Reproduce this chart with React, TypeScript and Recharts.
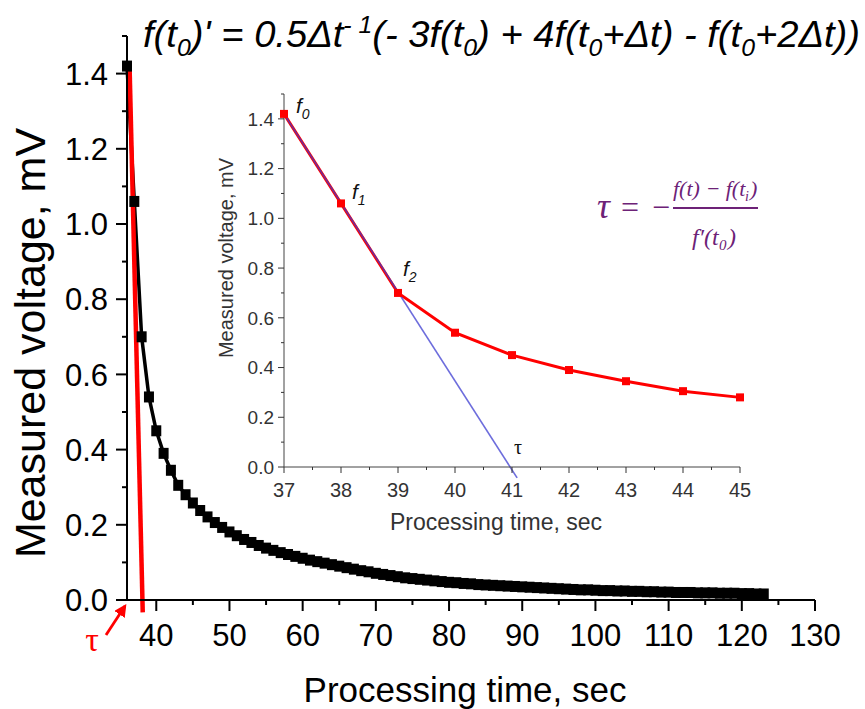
import React from 'react';
import { ComposedChart, Line, XAxis, YAxis, ReferenceLine } from 'recharts';

// ---------- data ----------
const mainTimes = [
  36, 37, 38, 39, 40, 41, 42, 43, 44, 45, 46, 47, 48, 49, 50, 51, 52, 53, 54, 55, 56, 57,
  58, 59, 60, 61, 62, 63, 64, 65, 66, 67, 68, 69, 70, 71, 72, 73, 74, 75, 76, 77, 78, 79,
  80, 81, 82, 83, 84, 85, 86, 87, 88, 89, 90, 91, 92, 93, 94, 95, 96, 97, 98, 99, 100, 101,
  102, 103, 104, 105, 106, 107, 108, 109, 110, 111, 112, 113, 114, 115, 116, 117, 118, 119,
  120, 121, 122, 123,
];
const mainVoltages = [
  1.42, 1.06, 0.7, 0.54, 0.45, 0.39, 0.345, 0.305, 0.28, 0.258, 0.238, 0.221, 0.206, 0.193,
  0.181, 0.171, 0.161, 0.153, 0.145, 0.138, 0.132, 0.126, 0.121, 0.116, 0.111, 0.106, 0.102,
  0.098, 0.094, 0.09, 0.086, 0.082, 0.078, 0.075, 0.071, 0.068, 0.065, 0.062, 0.059, 0.057,
  0.055, 0.053, 0.051, 0.049, 0.047, 0.046, 0.044, 0.043, 0.041, 0.04, 0.039, 0.038, 0.037,
  0.036, 0.035, 0.034, 0.033, 0.032, 0.031, 0.03, 0.029, 0.028, 0.027, 0.027, 0.026, 0.025,
  0.025, 0.024, 0.024, 0.023, 0.023, 0.022, 0.022, 0.021, 0.021, 0.02, 0.02, 0.02, 0.019,
  0.019, 0.019, 0.018, 0.018, 0.018, 0.017, 0.017, 0.016, 0.016,
];
const mainTangent = [
  { t: 36.35, v: 1.42 },
  { t: 38.15, v: -0.033 },
];

const insetTimes = [37, 38, 39, 40, 41, 42, 43, 44, 45];
const insetVoltages = [1.42, 1.06, 0.7, 0.54, 0.45, 0.39, 0.345, 0.305, 0.28];
const insetTangent = [
  { t: 37, v: 1.42 },
  { t: 41.09, v: -0.044 },
];

const mainXTicks = [40, 45, 50, 55, 60, 65, 70, 75, 80, 85, 90, 95, 100, 105, 110, 115, 120, 125, 130];
const mainXMajors = [40, 50, 60, 70, 80, 90, 100, 110, 120, 130];
const yTicks = [0, 0.1, 0.2, 0.3, 0.4, 0.5, 0.6, 0.7, 0.8, 0.9, 1.0, 1.1, 1.2, 1.3, 1.4, 1.5];
const yMajors = [0, 0.2, 0.4, 0.6, 0.8, 1.0, 1.2, 1.4];
const insetXTicks = [37, 37.5, 38, 38.5, 39, 39.5, 40, 40.5, 41, 41.5, 42, 42.5, 43, 43.5, 44, 44.5, 45];
const insetXMajors = [37, 38, 39, 40, 41, 42, 43, 44, 45];

const mainData = mainTimes.map((t, i) => ({ t, v: mainVoltages[i] }));
const insetData = insetTimes.map((t, i) => ({ t, v: insetVoltages[i] }));

const FONT = '"Liberation Sans", Arial, Helvetica, sans-serif';
const SERIF = '"Liberation Serif", "DejaVu Serif", serif';
const isIn = (list: number[], v: number) => list.some((m) => Math.abs(m - v) < 1e-9);

// ---------- tick renderers ----------
const makeXTick =
  (majors: number[], o: { len: number; minor: number; fs: number; dy: number; color: string; sw: number; fmt: (v: number) => string }) =>
  (props: any) => {
    const { x, y, payload } = props;
    const major = isIn(majors, payload.value);
    return (
      <g>
        <line x1={x} x2={x} y1={y} y2={y + (major ? o.len : o.minor)} stroke={o.color} strokeWidth={o.sw} />
        {major && (
          <text x={x} y={y + o.dy} textAnchor="middle" fontSize={o.fs} fill={o.color} fontFamily={FONT}>
            {o.fmt(payload.value)}
          </text>
        )}
      </g>
    );
  };

const makeYTick =
  (majors: number[], o: { len: number; minor: number; fs: number; dx: number; color: string; sw: number; fmt: (v: number) => string }) =>
  (props: any) => {
    const { x, y, payload } = props;
    const major = isIn(majors, payload.value);
    return (
      <g>
        <line x1={x} x2={x - (major ? o.len : o.minor)} y1={y} y2={y} stroke={o.color} strokeWidth={o.sw} />
        {major && (
          <text x={x - o.dx} y={y + o.fs * 0.36} textAnchor="end" fontSize={o.fs} fill={o.color} fontFamily={FONT}>
            {o.fmt(payload.value)}
          </text>
        )}
      </g>
    );
  };

const mainXTick = makeXTick(mainXMajors, { len: 11, minor: 5, fs: 31, dy: 46, color: '#000', sw: 2, fmt: (v) => String(v) });
const mainYTick = makeYTick(yMajors, { len: 11, minor: 5, fs: 31, dx: 19, color: '#000', sw: 2, fmt: (v) => v.toFixed(1) });
const insetXTick = makeXTick(insetXMajors, { len: 6, minor: 3, fs: 20, dy: 30, color: '#333', sw: 1, fmt: (v) => String(v) });
const insetYTick = makeYTick(yMajors, { len: 6, minor: 3, fs: 19, dx: 10, color: '#333', sw: 1, fmt: (v) => v.toFixed(1) });

const blackSquare = (props: any) => {
  const { cx, cy, index } = props;
  if (cx == null || cy == null) return <g key={`b${index}`} />;
  return <rect key={`b${index}`} x={cx - 5} y={cy - 5.5} width={10} height={11} fill="#000" />;
};
const redSquare = (props: any) => {
  const { cx, cy, index } = props;
  if (cx == null || cy == null) return <g key={`r${index}`} />;
  return <rect key={`r${index}`} x={cx - 4} y={cy - 4} width={8} height={8} fill="#ff0000" />;
};

export default function App() {
  return (
    <div style={{ position: 'absolute', left: 0, top: 0, width: 865, height: 709, background: '#fff', fontFamily: FONT }}>
      {/* main chart */}
      <div style={{ position: 'absolute', left: 0, top: 0 }}>
        <ComposedChart width={865} height={709} data={mainData} margin={{ top: 36, right: 50, bottom: 0, left: 0 }}>
          <XAxis
            dataKey="t"
            type="number"
            domain={[36, 130]}
            ticks={mainXTicks}
            interval={0}
            height={109}
            tickSize={0}
            tickMargin={0}
            tickLine={false}
            axisLine={{ stroke: '#000', strokeWidth: 2 }}
            tick={mainXTick}
          />
          <YAxis
            type="number"
            domain={[0, 1.5]}
            ticks={yTicks}
            interval={0}
            width={127}
            tickSize={0}
            tickMargin={0}
            tickLine={false}
            axisLine={{ stroke: '#000', strokeWidth: 2 }}
            tick={mainYTick}
          />
          <Line dataKey="v" stroke="#000" strokeWidth={3.5} dot={blackSquare} isAnimationActive={false} />
          <ReferenceLine
            segment={[
              { x: mainTangent[0].t, y: mainTangent[0].v },
              { x: mainTangent[1].t, y: mainTangent[1].v },
            ]}
            stroke="#ff0000"
            strokeWidth={4.5}
            ifOverflow="visible"
          />
        </ComposedChart>
      </div>

      {/* inset chart */}
      <div style={{ position: 'absolute', left: 180, top: 80 }}>
        <ComposedChart width={600} height={480} data={insetData} margin={{ top: 14, right: 40, bottom: 0, left: 0 }}>
          <XAxis
            dataKey="t"
            type="number"
            domain={[37, 45]}
            ticks={insetXTicks}
            interval={0}
            height={93}
            tickSize={0}
            tickMargin={0}
            tickLine={false}
            axisLine={{ stroke: '#444', strokeWidth: 1 }}
            tick={insetXTick}
          />
          <YAxis
            type="number"
            domain={[0, 1.5]}
            ticks={yTicks}
            interval={0}
            width={104}
            tickSize={0}
            tickMargin={0}
            tickLine={false}
            axisLine={{ stroke: '#444', strokeWidth: 1 }}
            tick={insetYTick}
          />
          <Line dataKey="v" stroke="#ff0000" strokeWidth={3} dot={redSquare} isAnimationActive={false} />
          <ReferenceLine
            segment={[
              { x: insetTangent[0].t, y: insetTangent[0].v },
              { x: insetTangent[1].t, y: insetTangent[1].v },
            ]}
            stroke="#3c3cd0"
            strokeOpacity={0.75}
            strokeWidth={1.6}
            ifOverflow="visible"
          />
        </ComposedChart>
      </div>

      {/* annotations */}
      <svg width={865} height={709} style={{ position: 'absolute', left: 0, top: 0, pointerEvents: 'none' }}>
        <defs>
          <marker id="ah" viewBox="0 0 10 10" refX="8" refY="5" markerWidth="4.5" markerHeight="4.5" orient="auto">
            <path d="M0,0 L10,5 L0,10 z" fill="#ff0000" />
          </marker>
        </defs>
        <text x={143} y={47} fontSize={37} fontStyle="italic" fontFamily={FONT} fill="#000" textLength={717} lengthAdjust="spacingAndGlyphs">
          f(t<tspan fontSize={24} dy={9}>0</tspan>
          <tspan dy={-9}>)' = 0.5Δt</tspan>
          <tspan fontSize={24} dy={-14}>- 1</tspan>
          <tspan dy={14}>(- 3f(t</tspan>
          <tspan fontSize={24} dy={9}>0</tspan>
          <tspan dy={-9}>) + 4f(t</tspan>
          <tspan fontSize={24} dy={9}>0</tspan>
          <tspan dy={-9}>+Δt) - f(t</tspan>
          <tspan fontSize={24} dy={9}>0</tspan>
          <tspan dy={-9}>+2Δt))</tspan>
        </text>

        {/* main axis titles */}
        <text x={465} y={702} textAnchor="middle" fontSize={35} fontFamily={FONT} fill="#000">
          Processing time, sec
        </text>
        <text x={30} y={343} textAnchor="middle" dominantBaseline="central" fontSize={43} fontFamily={FONT} fill="#000" transform="rotate(-90 30 343)">
          Measured voltage, mV
        </text>

        {/* tau marker on main chart */}
        <text x={92} y={651} textAnchor="middle" fontSize={34} fontFamily={SERIF} fill="#ff0000">
          τ
        </text>
        <line x1={106} y1={635} x2={125} y2={606} stroke="#ff0000" strokeWidth={2.8} markerEnd="url(#ah)" />

        {/* inset axis titles */}
        <text x={496} y={530} textAnchor="middle" fontSize={23} fontFamily={FONT} fill="#333">
          Processing time, sec
        </text>
        <text x={226} y={258} textAnchor="middle" dominantBaseline="central" fontSize={20} fontFamily={FONT} fill="#333" transform="rotate(-90 226 258)">
          Measured voltage, mV
        </text>

        {/* point labels */}
        <text x={296} y={113} fontSize={21} fontStyle="italic" fontFamily={FONT} fill="#111">
          f<tspan fontSize={14} dy={6}>0</tspan>
        </text>
        <text x={352} y={199} fontSize={21} fontStyle="italic" fontFamily={FONT} fill="#111">
          f<tspan fontSize={14} dy={6}>1</tspan>
        </text>
        <text x={403} y={276} fontSize={21} fontStyle="italic" fontFamily={FONT} fill="#111">
          f<tspan fontSize={14} dy={6}>2</tspan>
        </text>
        <text x={518} y={454} textAnchor="middle" fontSize={20} fontFamily={SERIF} fill="#111">
          τ
        </text>

        {/* tau formula */}
        <g fill="#6d2277" fontFamily={SERIF}>
          <text x={597} y={218} fontSize={36} fontStyle="italic">τ</text>
          <text x={621} y={218} fontSize={32}>=</text>
          <text x={652} y={218} fontSize={32}>−</text>
          <text x={673} y={196} fontSize={22} fontStyle="italic">f(t) − f(t</text>
          <text x={745} y={201} fontSize={14} fontStyle="italic">i</text>
          <text x={750} y={196} fontSize={22} fontStyle="italic">)</text>
          <line x1={673} x2={758} y1={208} y2={208} stroke="#6d2277" strokeWidth={1.8} />
          <text x={692} y={245} fontSize={24} fontStyle="italic">f′(t</text>
          <text x={719} y={250} fontSize={15} fontStyle="italic">0</text>
          <text x={728} y={245} fontSize={24} fontStyle="italic">)</text>
        </g>
      </svg>
    </div>
  );
}
